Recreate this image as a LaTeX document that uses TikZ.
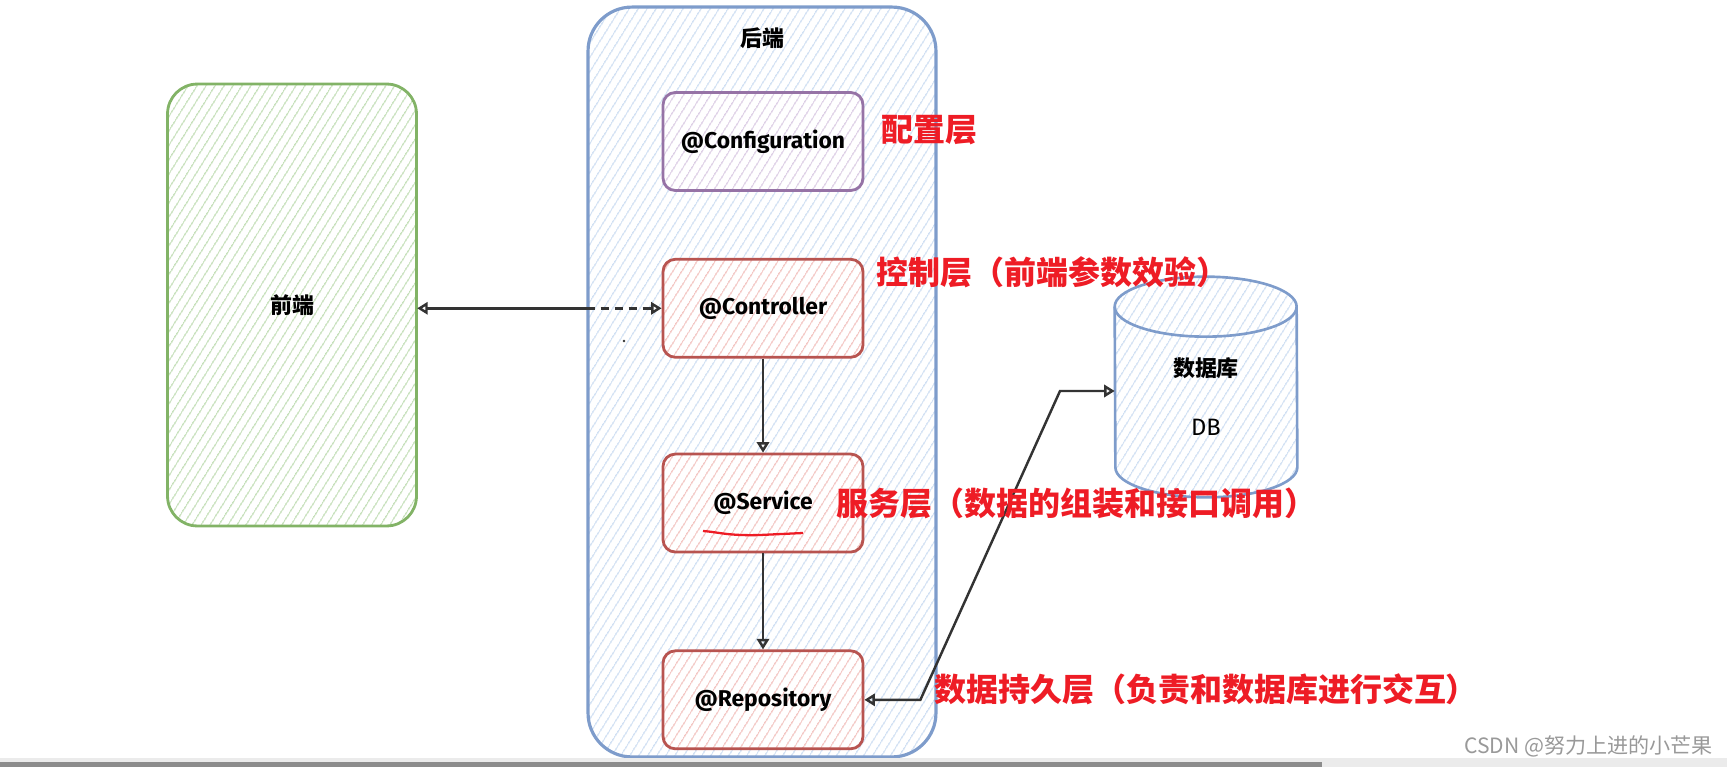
\documentclass[tikz,border=0pt]{standalone}
\usepackage{fontspec}
\setmainfont{Fira Sans}
\newfontfamily\cjk{Noto Sans CJK SC}
\usetikzlibrary{positioning, arrows.meta, patterns.meta}

\definecolor{frontline}{HTML}{82B366}
\definecolor{fronthatch}{HTML}{C4DFB8}
\definecolor{backline}{HTML}{7E9CCB}
\definecolor{backhatch}{HTML}{CFDFF3}
\definecolor{confline}{HTML}{9673A6}
\definecolor{confhatch}{HTML}{DCCDE5}
\definecolor{layerline}{HTML}{B85450}
\definecolor{layerhatch}{HTML}{F3C4C1}
\definecolor{notered}{HTML}{EE1C25}
\definecolor{wire}{HTML}{333333}

\begin{document}
\begin{tikzpicture}[x=0.02cm, y=-0.02cm,
    hatch/.style={preaction={fill=white}, pattern={Lines[angle=58, distance=4pt, line width=0.8pt]}, pattern color=#1},
    layer/.style={draw=layerline, line width=1.6pt, rounded corners=7pt, hatch=layerhatch, minimum width=4cm, minimum height=1.96cm, font=\bfseries\fontsize{13}{15}\selectfont},
    note/.style={anchor=west, inner sep=0pt, text=notered, font=\cjk\bfseries\fontsize{18.2}{21}\selectfont},
    flow/.style={draw=wire, line width=1.4pt, -{Triangle[open, length=6pt, width=7pt]}},
    link/.style={draw=wire, line width=1.4pt, {Triangle[open, length=6pt, width=7pt]}-{Triangle[open, length=6pt, width=7pt]}}]
    \useasboundingbox (0,0) rectangle (1727,767);

    % frontend and backend containers
    \node (front) [draw=frontline, line width=1.6pt, rounded corners=17pt, hatch=fronthatch, minimum width=4.98cm, minimum height=8.84cm, font=\cjk\bfseries\fontsize{12.5}{15}\selectfont] at (292,305) {前端};
    \node (back) [draw=backline, line width=1.8pt, rounded corners=25pt, hatch=backhatch, minimum width=6.96cm, minimum height=15cm] at (762,382) {};
    \node (backtitle) [font=\cjk\bfseries\fontsize{12.5}{15}\selectfont] at (762,38) {后端};

    % layers
    \node (conf) [layer, draw=confline, hatch=confhatch] at (763,141.5) {@Configuration};
    \node (ctrl) [layer, below=1.32cm of conf] {@Controller};
    \node (svc) [layer, below=1.88cm of ctrl] {@Service};
    \node (repo) [layer, below=1.92cm of svc] {@Repository};
    \draw [notered, line width=1.3pt] (703,531) .. controls (718,532) and (728,536) .. (760,535) -- (803,533);

    % database
    \node (db) [minimum width=3.64cm, minimum height=4.4cm, inner sep=0pt] at (1206,387) {};
    \path [draw=backline, line width=1.5pt, hatch=backhatch] ([yshift=-0.6cm]db.north west) arc[start angle=180, end angle=0, x radius=1.82cm, y radius=0.6cm] -- ([yshift=0.6cm]db.south east) arc[start angle=0, end angle=-180, x radius=1.82cm, y radius=0.6cm] -- cycle;
    \draw [backline, line width=1.5pt] ([yshift=-0.6cm]db.north west) arc[start angle=180, end angle=360, x radius=1.82cm, y radius=0.6cm];
    \node (dbname) [font=\cjk\bfseries\fontsize{12.5}{15}\selectfont] at (1206,368) {数据库};
    \node (dbtag) [font=\fontsize{13.5}{16}\selectfont] at (1206,427) {DB};

    % connectors
    \coordinate (gate) at (back.west |- ctrl.west);
    \draw [flow] (gate) -- (gate -| front.east);
    \draw [flow, dash pattern=on 5pt off 3pt] (gate) -- (ctrl.west);
    \draw [flow] (ctrl) -- (svc);
    \draw [flow] (svc) -- (repo);
    \coordinate (kneelow) at ([xshift=1.12cm]repo.east);
    \coordinate (kneehigh) at (1060,391);
    \draw [link] (repo.east) -- (kneelow) -- (kneehigh) -- (kneehigh -| db.west);
    \fill [wire] (624,341) circle (0.8pt);

    % layer notes
    \node (confnote) [note] at (881,130) {配置层};
    \node (ctrlnote) [note] at (876,272) {控制层（前端参数效验）};
    \node (svcnote) [note] at (836,503) {服务层（数据的组装和接口调用）};
    \node (reponote) [note] at (934,689) {数据持久层（负责和数据库进行交互）};

    % watermark and scroll bar
    \node (mark) [anchor=east, inner sep=0pt, text=black!40, font=\cjk\fontsize{12}{14}\selectfont] at (1713,746) {CSDN @努力上进的小芒果};
    \fill [black!8] (0,758) rectangle (1727,767);
    \fill [black!45] (0,762) rectangle (1322,767);
\end{tikzpicture}
\end{document}
